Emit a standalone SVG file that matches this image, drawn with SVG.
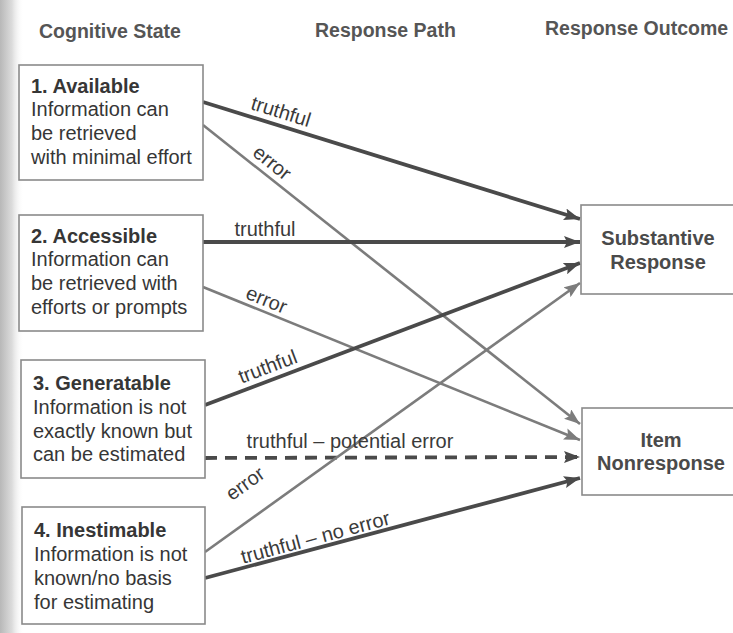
<svg xmlns="http://www.w3.org/2000/svg" width="733" height="633" viewBox="0 0 733 633">
<defs>
<linearGradient id="edge" x1="0" y1="0" x2="1" y2="0">
<stop offset="0" stop-color="#b8b8b8"/>
<stop offset="0.5" stop-color="#dcdcdc"/>
<stop offset="1" stop-color="#ffffff" stop-opacity="0"/>
</linearGradient>
<marker id="ahDark" markerUnits="userSpaceOnUse" markerWidth="16" markerHeight="12" refX="16" refY="6" orient="auto">
<path d="M0,0 L16,6 L0,12 L3,6 z" fill="#4a4a4a"/>
</marker>
<marker id="ahLight" markerUnits="userSpaceOnUse" markerWidth="16" markerHeight="12" refX="16" refY="6" orient="auto">
<path d="M0,0 L16,6 L0,12 L3,6 z" fill="#7c7c7c"/>
</marker>
<style>
.hdr{font-family:"Liberation Sans",Arial,sans-serif;font-weight:bold;font-size:19.5px;fill:#555}
.box{fill:#fff;stroke:#8a8a8a;stroke-width:1.6}
.t{font-family:"Liberation Sans",Arial,sans-serif;font-size:20px;fill:#363636}
.tb{font-family:"Liberation Sans",Arial,sans-serif;font-size:20px;font-weight:bold;fill:#363636}
.out{font-family:"Liberation Sans",Arial,sans-serif;font-size:20px;font-weight:bold;fill:#4a4a4a;text-anchor:middle}
.lbl{font-family:"Liberation Sans",Arial,sans-serif;font-size:20px;fill:#3a3a3a;text-anchor:middle}
.dark{stroke:#4a4a4a;stroke-width:3.8;fill:none;marker-end:url(#ahDark)}
.light{stroke:#7c7c7c;stroke-width:2.6;fill:none;marker-end:url(#ahLight)}
.dash{stroke-dasharray:12 8}
</style>
</defs>
<rect x="0" y="0" width="733" height="633" fill="#fff"/>
<rect x="0" y="0" width="24" height="633" fill="url(#edge)"/>

<g id="headers">
<text class="hdr" x="39" y="38">Cognitive State</text>
<text class="hdr" x="315" y="37">Response Path</text>
<text class="hdr" x="545" y="35">Response Outcome</text>
</g>

<g id="connectors">
<line class="dark" x1="203" y1="102" x2="580" y2="219"/>
<line class="light" x1="203" y1="125" x2="580" y2="424"/>
<line class="dark" x1="203" y1="242" x2="580" y2="242"/>
<line class="light" x1="203" y1="287" x2="580" y2="440"/>
<line class="dark" x1="205" y1="405" x2="580" y2="263"/>
<line class="dark dash" x1="205" y1="458" x2="580" y2="457"/>
<line class="light" x1="205" y1="552" x2="580" y2="283"/>
<line class="dark" x1="205" y1="578" x2="580" y2="478"/>
<text class="lbl" transform="translate(279,118) rotate(17.3)">truthful</text>
<text class="lbl" transform="translate(268,168) rotate(38.6)">error</text>
<text class="lbl" x="265" y="236">truthful</text>
<text class="lbl" transform="translate(264,306) rotate(22.2)">error</text>
<text class="lbl" transform="translate(270,373) rotate(-20.8)">truthful</text>
<text class="lbl" x="350" y="448">truthful – potential error</text>
<text class="lbl" transform="translate(249,489) rotate(-35.8)">error</text>
<text class="lbl" transform="translate(317,544) rotate(-15)">truthful – no error</text>
</g>

<g id="state1">
<rect class="box" x="19" y="65" width="184" height="115"/>
<text class="tb" x="31" y="93">1. Available</text>
<text class="t" x="31" y="116">Information can</text>
<text class="t" x="31" y="140">be retrieved</text>
<text class="t" x="31" y="164">with minimal effort</text>
</g>
<g id="state2">
<rect class="box" x="19" y="215" width="184" height="116"/>
<text class="tb" x="31" y="243">2. Accessible</text>
<text class="t" x="31" y="266">Information can</text>
<text class="t" x="31" y="290">be retrieved with</text>
<text class="t" x="31" y="314">efforts or prompts</text>
</g>
<g id="state3">
<rect class="box" x="21" y="360" width="184" height="118"/>
<text class="tb" x="33" y="390">3. Generatable</text>
<text class="t" x="33" y="414">Information is not</text>
<text class="t" x="33" y="438">exactly known but</text>
<text class="t" x="33" y="461">can be estimated</text>
</g>
<g id="state4">
<rect class="box" x="22" y="507" width="183" height="117"/>
<text class="tb" x="34" y="537">4. Inestimable</text>
<text class="t" x="34" y="561">Information is not</text>
<text class="t" x="34" y="585">known/no basis</text>
<text class="t" x="34" y="609">for estimating</text>
</g>
<g id="substantive">
<rect class="box" x="581" y="205" width="170" height="89"/>
<text class="out" x="658" y="245">Substantive</text>
<text class="out" x="658" y="269">Response</text>
</g>
<g id="nonresponse">
<rect class="box" x="582" y="408" width="170" height="87"/>
<text class="out" x="661" y="447">Item</text>
<text class="out" x="661" y="470">Nonresponse</text>
</g>
</svg>
